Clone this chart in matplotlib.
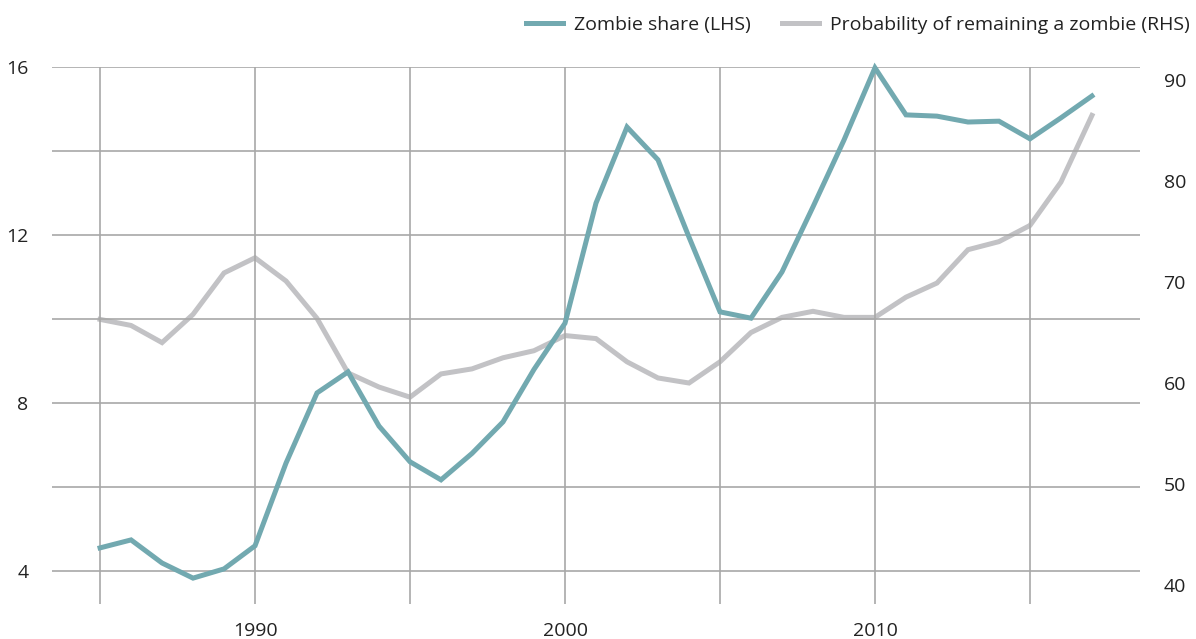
import matplotlib.pyplot as plt

plt.rcParams['font.family'] = ['Open Sans', 'DejaVu Sans']

# data
years = list(range(1985, 2018))
zombie_share = [4.55, 4.74, 4.19, 3.83, 4.05, 4.6, 6.57, 8.24, 8.74, 7.45,
                6.6, 6.17, 6.8, 7.55, 8.8, 9.9, 12.76, 14.57, 13.79, 11.95,
                10.17, 10.02, 11.12, 12.67, 14.26, 15.98, 14.86, 14.83, 14.69, 14.71,
                14.29, 14.79, 15.31]
prob_remaining = [66.3, 65.7, 64.0, 66.8, 70.9, 72.4, 70.1, 66.4, 61.0, 59.6,
                  58.6, 60.9, 61.4, 62.5, 63.2, 64.7, 64.4, 62.1, 60.5, 60.0,
                  62.1, 65.0, 66.5, 67.1, 66.5, 66.5, 68.5, 69.9, 73.2, 74.0,
                  75.6, 79.9, 86.5]

teal = '#72a9b0'
grey = '#c2c2c5'
grid_c = '#a8a8a8'
text_c = '#222222'

fig = plt.figure(figsize=(11.96, 6.39), dpi=100)
ax = fig.add_axes([52 / 1196, 35 / 639, 1088 / 1196, 537 / 639])
ax2 = ax.twinx()

ax.set_zorder(2)
ax.patch.set_visible(False)

ax2.plot(years, prob_remaining, color=grey, lw=3.6, solid_joinstyle='miter',
         clip_on=False, label='Probability of remaining a zombie (RHS)')
ax.plot(years, zombie_share, color=teal, lw=3.6, solid_joinstyle='miter',
        clip_on=False, label='Zombie share (LHS)')

ax.set_xlim(1983.45, 2018.55)
ax.set_ylim(3.214, 16)
ax2.set_ylim(38.12, 91.29)

ax.set_xticks(range(1985, 2016, 5))
ax.set_xticklabels([str(y) if y % 10 == 0 else '' for y in range(1985, 2016, 5)])
ax.set_yticks(range(4, 17, 2))
ax.set_yticklabels([str(v) if v % 4 == 0 else '' for v in range(4, 17, 2)])
ax2.set_yticks(range(40, 91, 10))

ax.grid(True, color=grid_c, lw=1.2)
ax.set_axisbelow(True)

for a in (ax, ax2):
    for s in a.spines.values():
        s.set_visible(False)
ax.tick_params(axis='both', length=0, labelsize=14, colors=text_c)
ax.tick_params(axis='y', pad=17)
ax.tick_params(axis='x', pad=13)
ax2.tick_params(axis='y', length=0, labelsize=14, colors=text_c, pad=17)

h1, l1 = ax.get_legend_handles_labels()
h2, l2 = ax2.get_legend_handles_labels()
fig.legend(h1 + h2, l1 + l2, loc='upper right', bbox_to_anchor=(1.009, 1.002),
           ncol=2, frameon=False, fontsize=14, handlelength=1.9,
           handletextpad=0.55, columnspacing=1.6, labelcolor=text_c)

fig.savefig('out.png', dpi=100)
